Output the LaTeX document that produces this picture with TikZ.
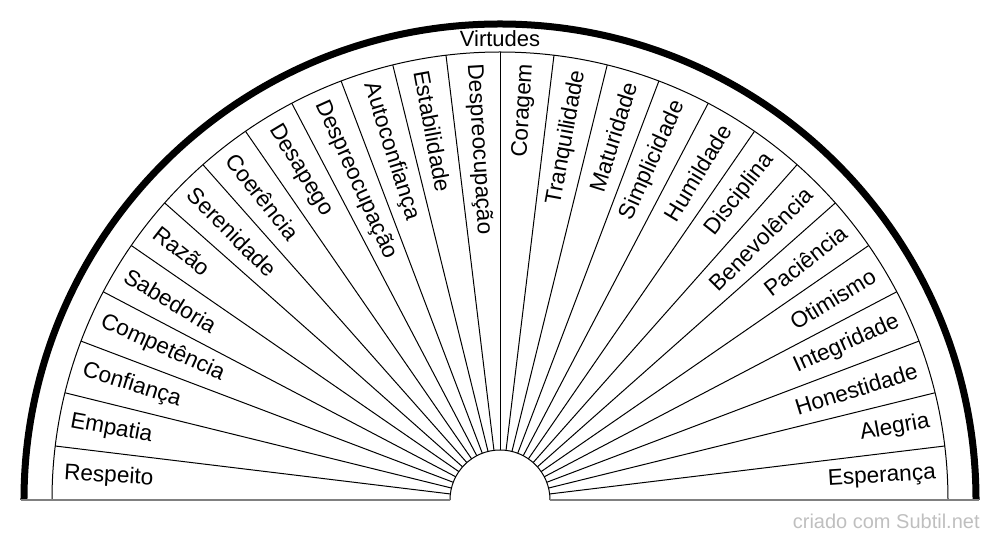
\documentclass[tikz,border=0pt]{standalone}
\usepackage{fontspec}
\setmainfont{Liberation Sans}

\begin{document}
\begin{tikzpicture}[
    x=0.5pt, y=0.5pt,
    rim/.style={line width=3.5pt},
    ring/.style={line width=0.5pt},
    base/.style={line width=0.8pt, color=gray},
    spoke/.style={line width=0.5pt},
    leftlabel/.style={anchor=west, inner sep=0pt, font=\fontsize{11.3}{13}\selectfont},
    rightlabel/.style={anchor=east, inner sep=0pt, font=\fontsize{11.3}{13}\selectfont},
    title/.style={anchor=base, inner sep=0pt, font=\fontsize{11}{13}\selectfont},
    credit/.style={anchor=base east, inner sep=0pt, color=black!25, font=\fontsize{10}{12}\selectfont},
]
\useasboundingbox (-500,-40) rectangle (500,500);

%% FRAME
    % outer rim, inner ring and hub
    \draw[rim] (-476,0) arc[start angle=180, end angle=0, radius=476];
    \draw[ring] (-448,0) arc[start angle=180, end angle=0, radius=448];
    \draw[ring] (-50,0) arc[start angle=180, end angle=0, radius=50];
    \draw[base] (-479,0) -- (-50,0);
    \draw[base] (50,0) -- (479,0);

    % spokes between the sectors
    \foreach \k in {1,...,25}
        \draw[spoke] ({\k*180/26}:50) -- ({\k*180/26}:448);

%% TITLE
    \node[title] (virtudes) at (0,453) {Virtudes};

%% LEFT HALF
    \node[leftlabel, rotate=-3.462]  (respeito)      at (176.538:437) {Respeito};
    \node[leftlabel, rotate=-10.385] (empatia)       at (169.615:437) {Empatia};
    \node[leftlabel, rotate=-17.308] (confianca)     at (162.692:437) {Confiança};
    \node[leftlabel, rotate=-24.231] (competencia)   at (155.769:437) {Competência};
    \node[leftlabel, rotate=-31.154] (sabedoria)     at (148.846:437) {Sabedoria};
    \node[leftlabel, rotate=-38.077] (razao)         at (141.923:437) {Razão};
    \node[leftlabel, rotate=-45.000] (serenidade)    at (135.000:437) {Serenidade};
    \node[leftlabel, rotate=-51.923] (coerencia)     at (128.077:437) {Coerência};
    \node[leftlabel, rotate=-58.846] (desapego)      at (121.154:437) {Desapego};
    \node[leftlabel, rotate=-65.769] (despreocA)     at (114.231:437) {Despreocupação};
    \node[leftlabel, rotate=-72.692] (autoconfianca) at (107.308:437) {Autoconfiança};
    \node[leftlabel, rotate=-79.615] (estabilidade)  at (100.385:437) {Estabilidade};
    \node[leftlabel, rotate=-86.538] (despreocB)     at (93.462:437)  {Despreocupação};

%% RIGHT HALF
    \node[rightlabel, rotate=86.538] (coragem)       at (86.538:437) {Coragem};
    \node[rightlabel, rotate=79.615] (tranquilidade) at (79.615:437) {Tranquilidade};
    \node[rightlabel, rotate=72.692] (maturidade)    at (72.692:437) {Maturidade};
    \node[rightlabel, rotate=65.769] (simplicidade)  at (65.769:437) {Simplicidade};
    \node[rightlabel, rotate=58.846] (humildade)     at (58.846:437) {Humildade};
    \node[rightlabel, rotate=51.923] (disciplina)    at (51.923:437) {Disciplina};
    \node[rightlabel, rotate=45.000] (benevolencia)  at (45.000:437) {Benevolência};
    \node[rightlabel, rotate=38.077] (paciencia)     at (38.077:437) {Paciência};
    \node[rightlabel, rotate=31.154] (otimismo)      at (31.154:437) {Otimismo};
    \node[rightlabel, rotate=24.231] (integridade)   at (24.231:437) {Integridade};
    \node[rightlabel, rotate=17.308] (honestidade)   at (17.308:437) {Honestidade};
    \node[rightlabel, rotate=10.385] (alegria)       at (10.385:437) {Alegria};
    \node[rightlabel, rotate=3.462]  (esperanca)     at (3.462:437)  {Esperança};

%% CREDIT
    \node[credit] (subtil) at (480,-28) {criado com Subtil.net};

\end{tikzpicture}
\end{document}
